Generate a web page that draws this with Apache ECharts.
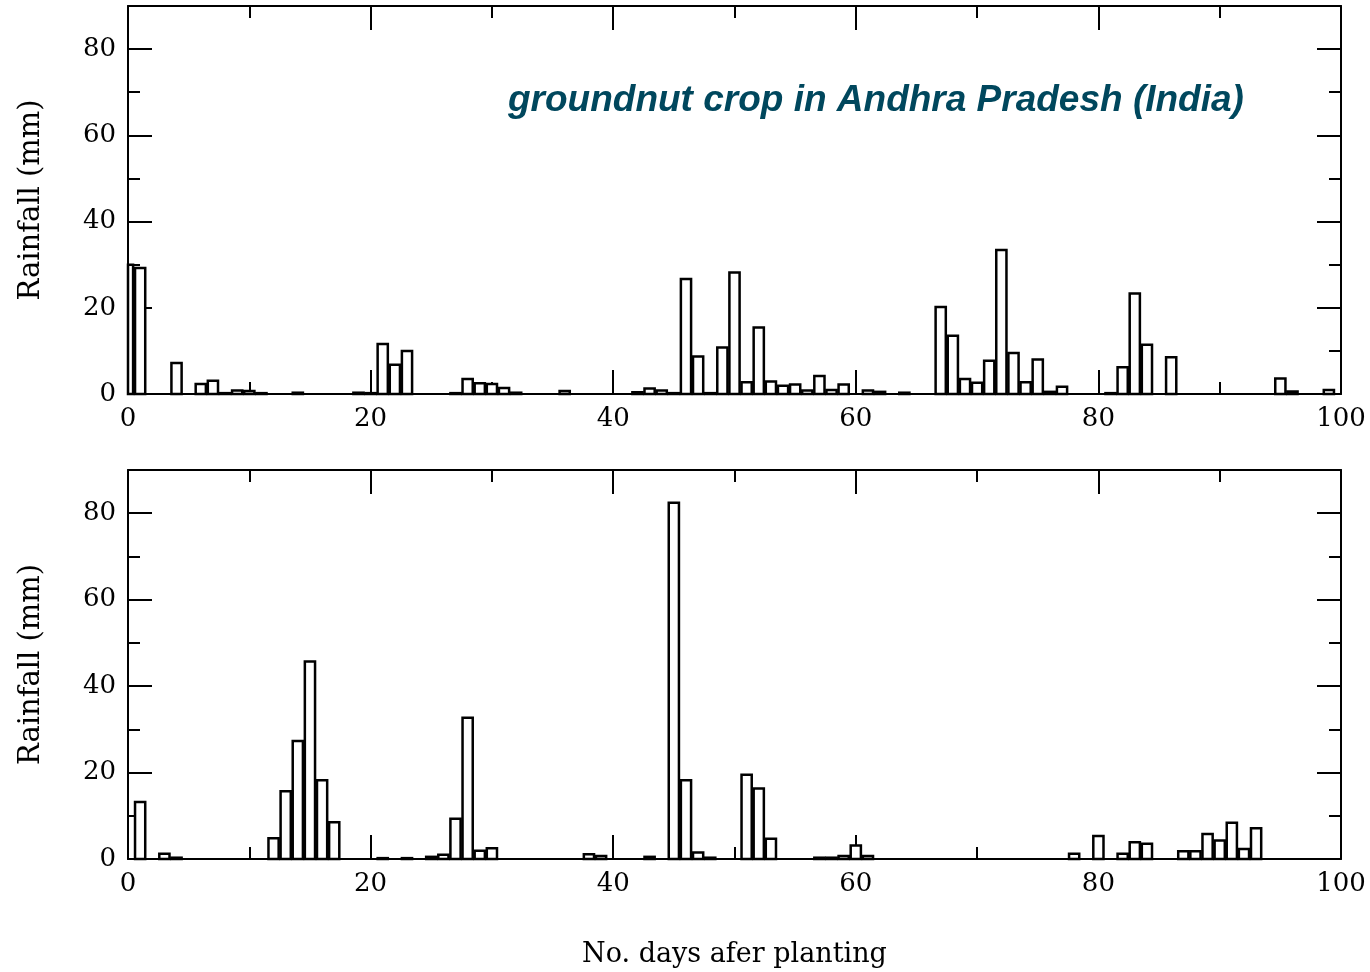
<!DOCTYPE html>
<html>
<head>
<meta charset="utf-8">
<script src="https://cdn.jsdelivr.net/npm/echarts@6/dist/echarts.min.js"></script>
<style>html,body{margin:0;padding:0;background:#fff}#c{width:1370px;height:972px}</style>
</head>
<body>
<div id="c"></div>
<script>
// Days after planting (0..99)
const days = Array.from({length: 100}, (_, i) => i);

// Top panel rainfall (mm), day 0..99
const rainTop = [
  30, 29.2, 0, 0, 7.2, 0, 2.3, 3.1, 0.2, 0.8,
  0.7, 0.2, 0, 0, 0.3, 0, 0, 0, 0, 0.3,
  0.2, 11.6, 6.8, 10.0, 0, 0, 0, 0.2, 3.5, 2.5,
  2.3, 1.4, 0.3, 0, 0, 0, 0.7, 0, 0, 0,
  0, 0, 0.4, 1.3, 0.8, 0.2, 26.7, 8.7, 0.2, 10.8,
  28.2, 2.7, 15.4, 2.9, 1.9, 2.2, 0.8, 4.2, 0.9, 2.2,
  0, 0.8, 0.5, 0, 0.3, 0, 0, 20.2, 13.5, 3.5,
  2.6, 7.7, 33.4, 9.5, 2.7, 8.0, 0.5, 1.7, 0, 0,
  0, 0.2, 6.2, 23.3, 11.4, 0, 8.5, 0, 0, 0,
  0, 0, 0, 0, 0, 3.6, 0.6, 0, 0, 0.9
];

// Bottom panel rainfall (mm), day 0..99
const rainBottom = [
  0, 13.2, 0, 1.2, 0.3, 0, 0, 0, 0, 0,
  0, 0, 4.8, 15.7, 27.3, 45.7, 18.2, 8.5, 0, 0,
  0, 0.2, 0, 0.2, 0, 0.5, 1.0, 9.3, 32.7, 1.9,
  2.5, 0, 0, 0, 0, 0, 0, 0, 1.1, 0.7,
  0, 0, 0, 0.5, 0, 82.4, 18.2, 1.5, 0.3, 0,
  0, 19.5, 16.3, 4.7, 0, 0, 0, 0.3, 0.3, 0.7,
  3.1, 0.7, 0, 0, 0, 0, 0, 0, 0, 0,
  0, 0, 0, 0, 0, 0, 0, 0, 1.2, 0,
  5.3, 0, 1.2, 3.9, 3.5, 0, 0, 1.8, 1.8, 5.8,
  4.3, 8.4, 2.3, 7.1, 0, 0, 0, 0, 0, 0
];

const xTickLabels = [0, 20, 40, 60, 80, 100];
const yTickLabels = [0, 20, 40, 60, 80];

const titleText = 'groundnut crop in Andhra Pradesh (India)';
const yName = 'Rainfall (mm)';
const xName = 'No. days afer planting';

const serif = 'DejaVu Serif';
const black = '#000';
const BAR_HALF = 0.42; // half bar width in days

function xAxes(grid, withName) {
  const base = {gridIndex: grid, type: 'value', min: 0, max: 100, splitLine: {show: false}};
  return [
    Object.assign({}, base, {
      position: 'bottom', interval: 20,
      axisLine: {show: true, onZero: false, lineStyle: {color: black, width: 2}},
      axisTick: {show: true, inside: true, length: 24, lineStyle: {color: black, width: 2}},
      axisLabel: {show: true, margin: 12, fontFamily: serif, fontSize: 26, color: black,
        formatter: v => xTickLabels.includes(v) ? String(v) : ''},
      name: withName ? xName : '', nameLocation: 'middle', nameGap: 82,
      nameTextStyle: {fontFamily: serif, fontSize: 27, color: black, verticalAlign: 'top'}
    }),
    Object.assign({}, base, {
      position: 'bottom', interval: 10,
      axisLine: {show: false, onZero: false},
      axisTick: {show: true, inside: true, length: 12, lineStyle: {color: black, width: 2}},
      axisLabel: {show: false}
    }),
    Object.assign({}, base, {
      position: 'top', interval: 20,
      axisLine: {show: true, onZero: false, lineStyle: {color: black, width: 2}},
      axisTick: {show: true, inside: true, length: 24, lineStyle: {color: black, width: 2}},
      axisLabel: {show: false}
    }),
    Object.assign({}, base, {
      position: 'top', interval: 10,
      axisLine: {show: false, onZero: false},
      axisTick: {show: true, inside: true, length: 12, lineStyle: {color: black, width: 2}},
      axisLabel: {show: false}
    })
  ];
}

function yAxes(grid) {
  const base = {gridIndex: grid, type: 'value', min: 0, max: 90, splitLine: {show: false}};
  return [
    Object.assign({}, base, {
      position: 'left', interval: 20,
      axisLine: {show: true, onZero: false, lineStyle: {color: black, width: 2}},
      axisTick: {show: true, inside: true, length: 24, lineStyle: {color: black, width: 2}},
      axisLabel: {show: true, margin: 12, fontFamily: serif, fontSize: 26, color: black,
        showMaxLabel: false,
        formatter: v => yTickLabels.includes(v) ? String(v) : ''},
      name: yName, nameLocation: 'middle', nameGap: 82, nameRotate: 90,
      nameTextStyle: {fontFamily: serif, fontSize: 29, color: black}
    }),
    Object.assign({}, base, {
      position: 'left', interval: 10,
      axisLine: {show: false, onZero: false},
      axisTick: {show: true, inside: true, length: 12, lineStyle: {color: black, width: 2}},
      axisLabel: {show: false}
    }),
    Object.assign({}, base, {
      position: 'right', interval: 20,
      axisLine: {show: true, onZero: false, lineStyle: {color: black, width: 2}},
      axisTick: {show: true, inside: true, length: 24, lineStyle: {color: black, width: 2}},
      axisLabel: {show: false}
    }),
    Object.assign({}, base, {
      position: 'right', interval: 10,
      axisLine: {show: false, onZero: false},
      axisTick: {show: true, inside: true, length: 12, lineStyle: {color: black, width: 2}},
      axisLabel: {show: false}
    })
  ];
}

function renderBar(params, api) {
  const d = api.value(0), v = api.value(1);
  if (!(v > 0)) return null;
  const p0 = api.coord([d - BAR_HALF, v]);
  const p1 = api.coord([d + BAR_HALF, 0]);
  const cs = params.coordSys;
  const rect = echarts.graphic.clipRectByRect(
    {x: p0[0], y: p0[1], width: p1[0] - p0[0], height: p1[1] - p0[1]},
    {x: cs.x, y: cs.y - 2, width: cs.width, height: cs.height + 4}
  );
  if (!rect) return null;
  return {
    type: 'rect',
    shape: rect,
    style: {fill: '#fff', stroke: black, lineWidth: 2.5}
  };
}

function barSeries(values, axisIdx) {
  return {
    type: 'custom',
    xAxisIndex: axisIdx, yAxisIndex: axisIdx,
    data: days.map((d, i) => [d, values[i]]),
    encode: {x: 0, y: 1},
    renderItem: renderBar,
    clip: false,
    silent: true,
    z: 1
  };
}

const chart = echarts.init(document.getElementById('c'), null, {renderer: 'canvas'});
chart.setOption({
  animation: false,
  backgroundColor: '#fff',
  title: {
    text: titleText, left: 503, top: 77,
    textStyle: {fontFamily: 'Liberation Sans', fontSize: 37, fontWeight: 'bold', fontStyle: 'italic', color: '#00475d'}
  },
  grid: [
    {left: 128, top: 6, width: 1213, height: 388},
    {left: 128, top: 470, width: 1213, height: 389}
  ],
  xAxis: [...xAxes(0, false), ...xAxes(1, true)],
  yAxis: [...yAxes(0), ...yAxes(1)],
  series: [barSeries(rainTop, 0), barSeries(rainBottom, 4)]
});
</script>
</body>
</html>
